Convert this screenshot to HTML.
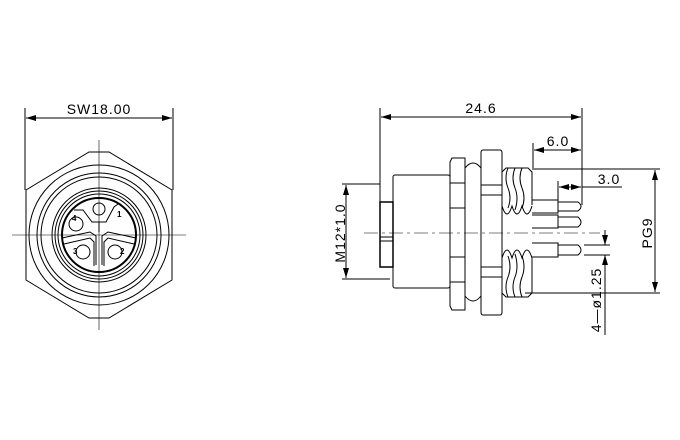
<!DOCTYPE html>
<html><head><style>body{margin:0;background:#fff}svg{display:block}</style></head><body>
<svg width="680" height="440" viewBox="0 0 680 440" xmlns="http://www.w3.org/2000/svg" font-family="Liberation Sans, sans-serif">
<defs>
<marker id="a" markerWidth="10" markerHeight="6" refX="10" refY="3" orient="auto-start-reverse" markerUnits="userSpaceOnUse"><path d="M0,0 L10,3 L0,6z" fill="#000"/></marker>
</defs>
<g fill="none" stroke="#000" stroke-width="1">
<!-- LEFT VIEW -->
<line x1="25" y1="108" x2="25" y2="190"/><line x1="173" y1="108" x2="173" y2="190"/>
<line x1="26" y1="118" x2="172" y2="118" marker-start="url(#a)" marker-end="url(#a)"/>
<polygon points="89,152 109,152 172,190 172,280 109,318 89,318 26,280 26,190"/>
<circle cx="99" cy="235" r="70"/>
<circle cx="99" cy="235" r="62"/>
<circle cx="99" cy="235" r="58"/>
<circle cx="99" cy="235" r="47"/>
<circle cx="99" cy="235" r="44"/>
<circle cx="99" cy="235" r="41"/>
<circle cx="99" cy="235" r="37" stroke-width="2"/>
<circle cx="99" cy="209" r="6"/>
<circle cx="76" cy="224" r="7"/>
<circle cx="83" cy="252" r="7"/>
<circle cx="115" cy="252" r="7"/>
<path d="M74,210 L83,210 L92,222 L106,222 L114,207 L118,204"/>
<path d="M62,238 L90,232 L96,236 L96,265"/>
<path d="M136,238 L108,232 L102,236 L102,265"/>
<path d="M64,244 L90,238 L94,242 L94,266"/>
<path d="M134,244 L108,238 L104,242 L104,266"/>
<line x1="99" y1="222" x2="99" y2="232"/>
<line x1="12" y1="235" x2="186" y2="235" stroke-width="0.6"/>
<line x1="99" y1="140" x2="99" y2="330" stroke-width="0.6"/>
<!-- RIGHT VIEW -->
<line x1="380" y1="108" x2="380" y2="202"/>
<line x1="582" y1="108" x2="582" y2="205"/>
<line x1="381" y1="117" x2="581" y2="117" marker-start="url(#a)" marker-end="url(#a)"/>
<!-- M12 -->
<line x1="342" y1="184" x2="380" y2="184"/>
<line x1="342" y1="279" x2="390" y2="279"/>
<line x1="346" y1="185" x2="346" y2="278" marker-start="url(#a)" marker-end="url(#a)"/>
<!-- front stub -->
<rect x="380" y="202" width="13" height="65" fill="#fff" stroke-width="1.5"/>
<line x1="380" y1="237" x2="393" y2="237"/><line x1="380" y1="241" x2="393" y2="241"/>
<!-- body -->
<rect x="393" y="175" width="57" height="113" rx="2"/>
<!-- nut1 -->
<path d="M452,158 L465,158 L465,310 L452,310 L450,306 L450,162 Z"/>
<line x1="450" y1="183" x2="465" y2="183"/><line x1="450" y1="208" x2="465" y2="208"/>
<line x1="450" y1="257" x2="465" y2="257"/><line x1="450" y1="282" x2="465" y2="282"/>
<!-- o-ring -->
<path d="M465,168 Q473,158 481,168 L481,296 Q473,306 465,296"/>
<!-- nut2 -->
<path d="M483,150 L500,150 Q502,150 502,153 L502,312 Q502,315 500,315 L483,315 Q481,315 481,312 L481,153 Q481,150 483,150 Z"/>
<line x1="481" y1="185" x2="502" y2="185"/><line x1="481" y1="195" x2="502" y2="195"/>
<line x1="481" y1="267" x2="502" y2="267"/><line x1="481" y1="277" x2="502" y2="277"/>
<!-- threads upper -->
<path d="M502,172 L506,168 L528,168 L532,172 L532,205"/>
<path d="M502,172 L502,206 Q507,222 512,206 Q517,222 522,206 Q527,222 532,206"/>
<path d="M508,168 Q504,178 508,188 Q512,198 508,208"/>
<path d="M515,168 Q511,178 515,188 Q519,198 515,210"/>
<path d="M522,168 Q518,178 522,188 Q526,198 522,208"/>
<!-- threads lower -->
<path d="M502,293 L506,297 L528,297 L532,293 L532,258"/>
<path d="M502,293 L502,258 Q507,242 512,258 Q517,242 522,258 Q527,242 532,258"/>
<path d="M508,297 Q504,287 508,277 Q512,267 508,256"/>
<path d="M515,297 Q511,287 515,277 Q519,267 515,254"/>
<path d="M522,297 Q518,287 522,277 Q526,267 522,256"/>
<!-- pins -->
<path d="M532,200 L558,200 L558,213 L532,213"/>
<path d="M558,202 L578,202 Q584,206.5 578,211 L558,211"/>
<path d="M532,215 L558,215 L558,228 L532,228"/>
<path d="M558,217 L578,217 Q584,222.5 578,227 L558,227"/>
<path d="M532,243 L558,243 L558,257 L532,257"/>
<path d="M558,245 L578,245 Q584,250 578,255 L558,255"/>
<!-- centerline -->
<line x1="364" y1="233" x2="600" y2="233" stroke-width="0.6" stroke-dasharray="14,4,3,4"/>
<!-- 6.0 -->
<line x1="533" y1="143" x2="533" y2="168"/>
<line x1="534" y1="150" x2="581" y2="150" marker-start="url(#a)" marker-end="url(#a)"/>
<!-- 3.0 -->
<line x1="558" y1="181" x2="558" y2="200"/>
<line x1="559" y1="187" x2="581" y2="187" marker-start="url(#a)" marker-end="url(#a)"/>
<line x1="582" y1="187" x2="622" y2="187"/>
<!-- PG9 -->
<line x1="532" y1="169" x2="660" y2="169"/>
<line x1="525" y1="293" x2="660" y2="293"/>
<line x1="655" y1="170" x2="655" y2="292" marker-start="url(#a)" marker-end="url(#a)"/>
<!-- 4-phi1.25 -->
<line x1="584" y1="245" x2="610" y2="245"/>
<line x1="584" y1="255" x2="610" y2="255"/>
<line x1="605" y1="230" x2="605" y2="245" marker-end="url(#a)"/>
<line x1="605" y1="270" x2="605" y2="255" marker-end="url(#a)"/>
<line x1="605" y1="270" x2="605" y2="335"/>
</g>
<g font-size="14" fill="#000" letter-spacing="1">
<text x="99" y="114" text-anchor="middle">SW18.00</text>
<text x="481" y="113" text-anchor="middle">24.6</text>
<text x="558" y="146" text-anchor="middle">6.0</text>
<text x="609" y="184" text-anchor="middle">3.0</text>
<text transform="translate(345,233) rotate(-90)" text-anchor="middle">M12*1.0</text>
<text transform="translate(652,233) rotate(-90)" text-anchor="middle">PG9</text>
<text transform="translate(601,300) rotate(-90)" text-anchor="middle">4—ø1.25</text>
</g>
<g font-size="8" font-weight="bold" fill="#000">
<text x="72" y="221">4</text>
<text x="117" y="217">1</text>
<text x="73" y="254">3</text>
<text x="120" y="254">2</text>
</g>
</svg>
</body></html>
